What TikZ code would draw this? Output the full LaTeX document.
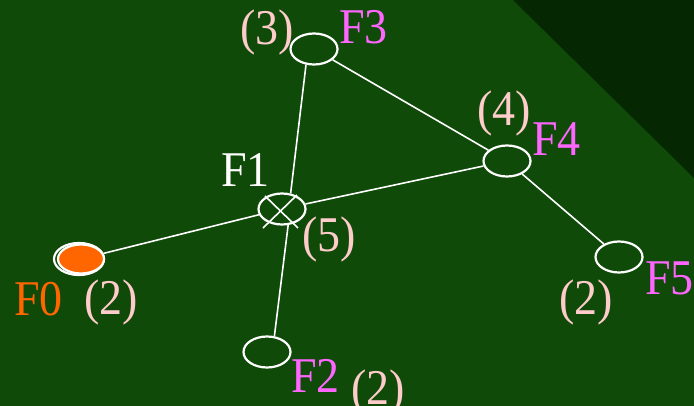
\documentclass[tikz,border=0pt]{standalone}
\usepackage{fontspec}
\setmainfont[FakeStretch=0.92]{Liberation Serif}
\usetikzlibrary{shapes.geometric, calc}
\definecolor{bggreen}{RGB}{15, 74, 8}
\definecolor{bgdark}{RGB}{5, 40, 3}
\definecolor{nodeorange}{RGB}{255, 102, 0}
\definecolor{namepink}{RGB}{255, 102, 255}
\definecolor{valpeach}{RGB}{255, 204, 204}
\tikzset{
  fnode/.style  = {ellipse, draw=white, line width=2.2pt, minimum width=47pt, minimum height=31pt, inner sep=0pt},
  link/.style   = {white, line width=1.6pt},
  fname/.style  = {anchor=base west, inner sep=0pt, text=namepink},
  fval/.style   = {anchor=base west, inner sep=0pt, text=valpeach},
}

\begin{document}
\begin{tikzpicture}[x=1pt, y=-1pt, font=\fontsize{50}{60}\selectfont]

% 背景
\useasboundingbox (0,0) rectangle (694,406);
\fill[bggreen] (0,0) rectangle (694,406);
\fill[bgdark] (513,0) -- (694,178) -- (694,0) -- cycle;

% 节点
\node[fnode, minimum width=50pt, minimum height=32pt] (f0shadow) at (79,259) {};
\node[fnode, fill=nodeorange, minimum width=46pt, minimum height=29pt] (f0) at (81,259) {};
\node[fnode] (f1) at (282,209) {};
\node[fnode] (f2) at (267,352) {};
\node[fnode] (f3) at (314,49) {};
\node[fnode] (f4) at (507,161) {};
\node[fnode] (f5) at (619,257) {};

% F1 上的叉
\draw[link] ($(f1.center)+(-17,-13)$) -- ($(f1.center)+(16,19)$);
\draw[link] ($(f1.center)+(15,-14)$) -- ($(f1.center)+(-19,19)$);

% 连线
\draw[link] (f0) -- (f1);
\draw[link] (f1) -- (f4);
\draw[link] (f1.61) -- (f3.-117);
\draw[link] (f1.-69) -- (f2.65);
\draw[link] (f3) -- (f4);
\draw[link] (f4) -- (f5);

% 标签
\node[fval] (f3val) at (240,45) {(3)};
\node[fname] (f3name) at (339,44) {F3};
\node[fval] (f4val) at (477,126) {(4)};
\node[fname] (f4name) at (532,156) {F4};
\node[fname, text=white] (f1name) at (221,187) {F1};
\node[fval] (f1val) at (302,252) {(5)};
\node[fname, text=nodeorange] (f0name) at (14,316) {F0};
\node[fval] (f0val) at (84,315) {(2)};
\node[fname] (f2name) at (291,392) {F2};
\node[fval] (f2val) at (351,404) {(2)};
\node[fval] (f5val) at (559,315) {(2)};
\node[fname] (f5name) at (645,295) {F5};

\end{tikzpicture}
\end{document}
